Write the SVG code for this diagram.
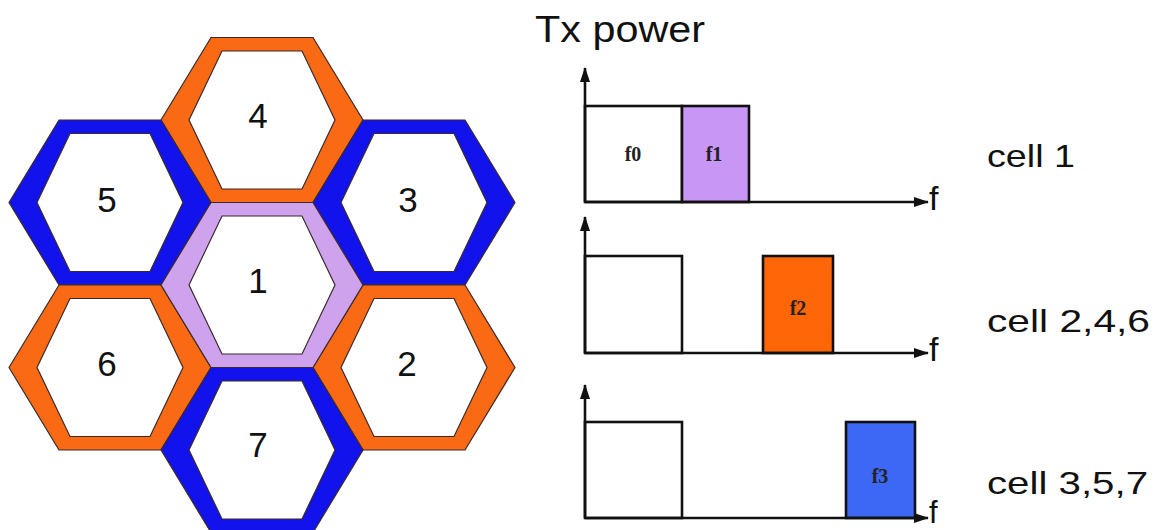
<svg xmlns="http://www.w3.org/2000/svg" width="1156" height="530" viewBox="0 0 1156 530">
<style>
.band{fill-rule:evenodd;stroke:#3a2a2a;stroke-width:1.2;stroke-linejoin:miter}
.or{fill:#FA6A14}
.bl{fill:#1212EC}
.pu{fill:#CFA2EE}
.num{font-family:"Liberation Sans",Arial,sans-serif;font-size:35px;fill:#111;text-anchor:middle}
.ax{stroke:#111;stroke-width:2.6;fill:none}
.box{stroke:#111;stroke-width:2.6}
.lab{font-family:"Liberation Serif","Times New Roman",serif;font-weight:bold;font-size:20px;fill:#222;text-anchor:middle}
.big{font-family:"Liberation Sans",Arial,sans-serif;fill:#111}
</style>
<defs>
<marker id="ah" viewBox="0 0 15 10" refX="14" refY="5" markerWidth="15" markerHeight="10" markerUnits="userSpaceOnUse" orient="auto">
<path d="M0,0 L15,5 L0,10 z" fill="#111"/>
</marker>
</defs>
<rect width="1156" height="530" fill="#fff"/>
<g id="cells">
<g id="hex4"><path class="band or" d="M161,120 L211,37.5 L313,37.5 L363,120 L313,202.5 L211,202.5 Z M189,120 L222,51 L302,51 L335,120 L302,189 L222,189 Z"/><text class="num" x="258" y="128">4</text></g>
<g id="hex5"><path class="band bl" d="M9,202.5 L59,120 L161,120 L211,202.5 L161,285 L59,285 Z M37,202.5 L70,133.5 L150,133.5 L183,202.5 L150,271.5 L70,271.5 Z"/><text class="num" x="107" y="212">5</text></g>
<g id="hex3"><path class="band bl" d="M313,202.5 L363,120 L465,120 L515,202.5 L465,285 L363,285 Z M341,202.5 L374,133.5 L454,133.5 L487,202.5 L454,271.5 L374,271.5 Z"/><text class="num" x="408" y="212">3</text></g>
<g id="hex6"><path class="band or" d="M9,367.5 L59,285 L161,285 L211,367.5 L161,450 L59,450 Z M37,367.5 L70,298.5 L150,298.5 L183,367.5 L150,436.5 L70,436.5 Z"/><text class="num" x="107" y="376">6</text></g>
<g id="hex2"><path class="band or" d="M313,367.5 L363,285 L465,285 L515,367.5 L465,450 L363,450 Z M341,367.5 L374,298.5 L454,298.5 L487,367.5 L454,436.5 L374,436.5 Z"/><text class="num" x="407" y="376">2</text></g>
<g id="hex7"><path class="band bl" d="M161,450 L211,367.5 L313,367.5 L363,450 L313,532.5 L211,532.5 Z M189,450 L222,381 L302,381 L335,450 L302,519 L222,519 Z"/><text class="num" x="258" y="457">7</text></g>
<g id="hex1"><path class="band pu" d="M161,285 L211,202.5 L313,202.5 L363,285 L313,367.5 L211,367.5 Z M189,285 L222,216 L302,216 L335,285 L302,354 L222,354 Z"/><text class="num" x="258" y="293">1</text></g>
</g>
<text class="big" x="535" y="42" font-size="37" textLength="170" lengthAdjust="spacingAndGlyphs">Tx power</text>
<g id="chart1">
<rect class="box" x="585" y="106" width="97" height="96" fill="#fff"/>
<rect class="box" x="682" y="106" width="67" height="96" fill="#C896F5"/>
<text class="lab" x="633" y="161">f0</text>
<text class="lab" x="714" y="161">f1</text>
<line class="ax" x1="585" y1="202" x2="585" y2="68" marker-end="url(#ah)"/>
<line class="ax" x1="585" y1="202" x2="928" y2="202" marker-end="url(#ah)"/>
<text class="big" x="929" y="210" font-size="34">f</text>
<text class="big" x="987" y="167" font-size="32" textLength="88" lengthAdjust="spacingAndGlyphs">cell 1</text>
</g>
<g id="chart2">
<rect class="box" x="585" y="256" width="97" height="97" fill="#fff"/>
<rect class="box" x="763" y="256" width="70" height="97" fill="#FF6608"/>
<text class="lab" x="798" y="315">f2</text>
<line class="ax" x1="585" y1="353" x2="585" y2="217" marker-end="url(#ah)"/>
<line class="ax" x1="585" y1="353" x2="928" y2="353" marker-end="url(#ah)"/>
<text class="big" x="929" y="361" font-size="34">f</text>
<text class="big" x="987" y="332" font-size="32" textLength="163" lengthAdjust="spacingAndGlyphs">cell 2,4,6</text>
</g>
<g id="chart3">
<rect class="box" x="585" y="422" width="97" height="96" fill="#fff"/>
<rect class="box" x="846" y="422" width="69" height="96" fill="#3D67F5"/>
<text class="lab" x="880" y="483">f3</text>
<line class="ax" x1="585" y1="518" x2="585" y2="385" marker-end="url(#ah)"/>
<line class="ax" x1="585" y1="518" x2="928" y2="518" marker-end="url(#ah)"/>
<text class="big" x="929" y="523" font-size="31">f</text>
<text class="big" x="987" y="494" font-size="32" textLength="161" lengthAdjust="spacingAndGlyphs">cell 3,5,7</text>
</g>
</svg>
